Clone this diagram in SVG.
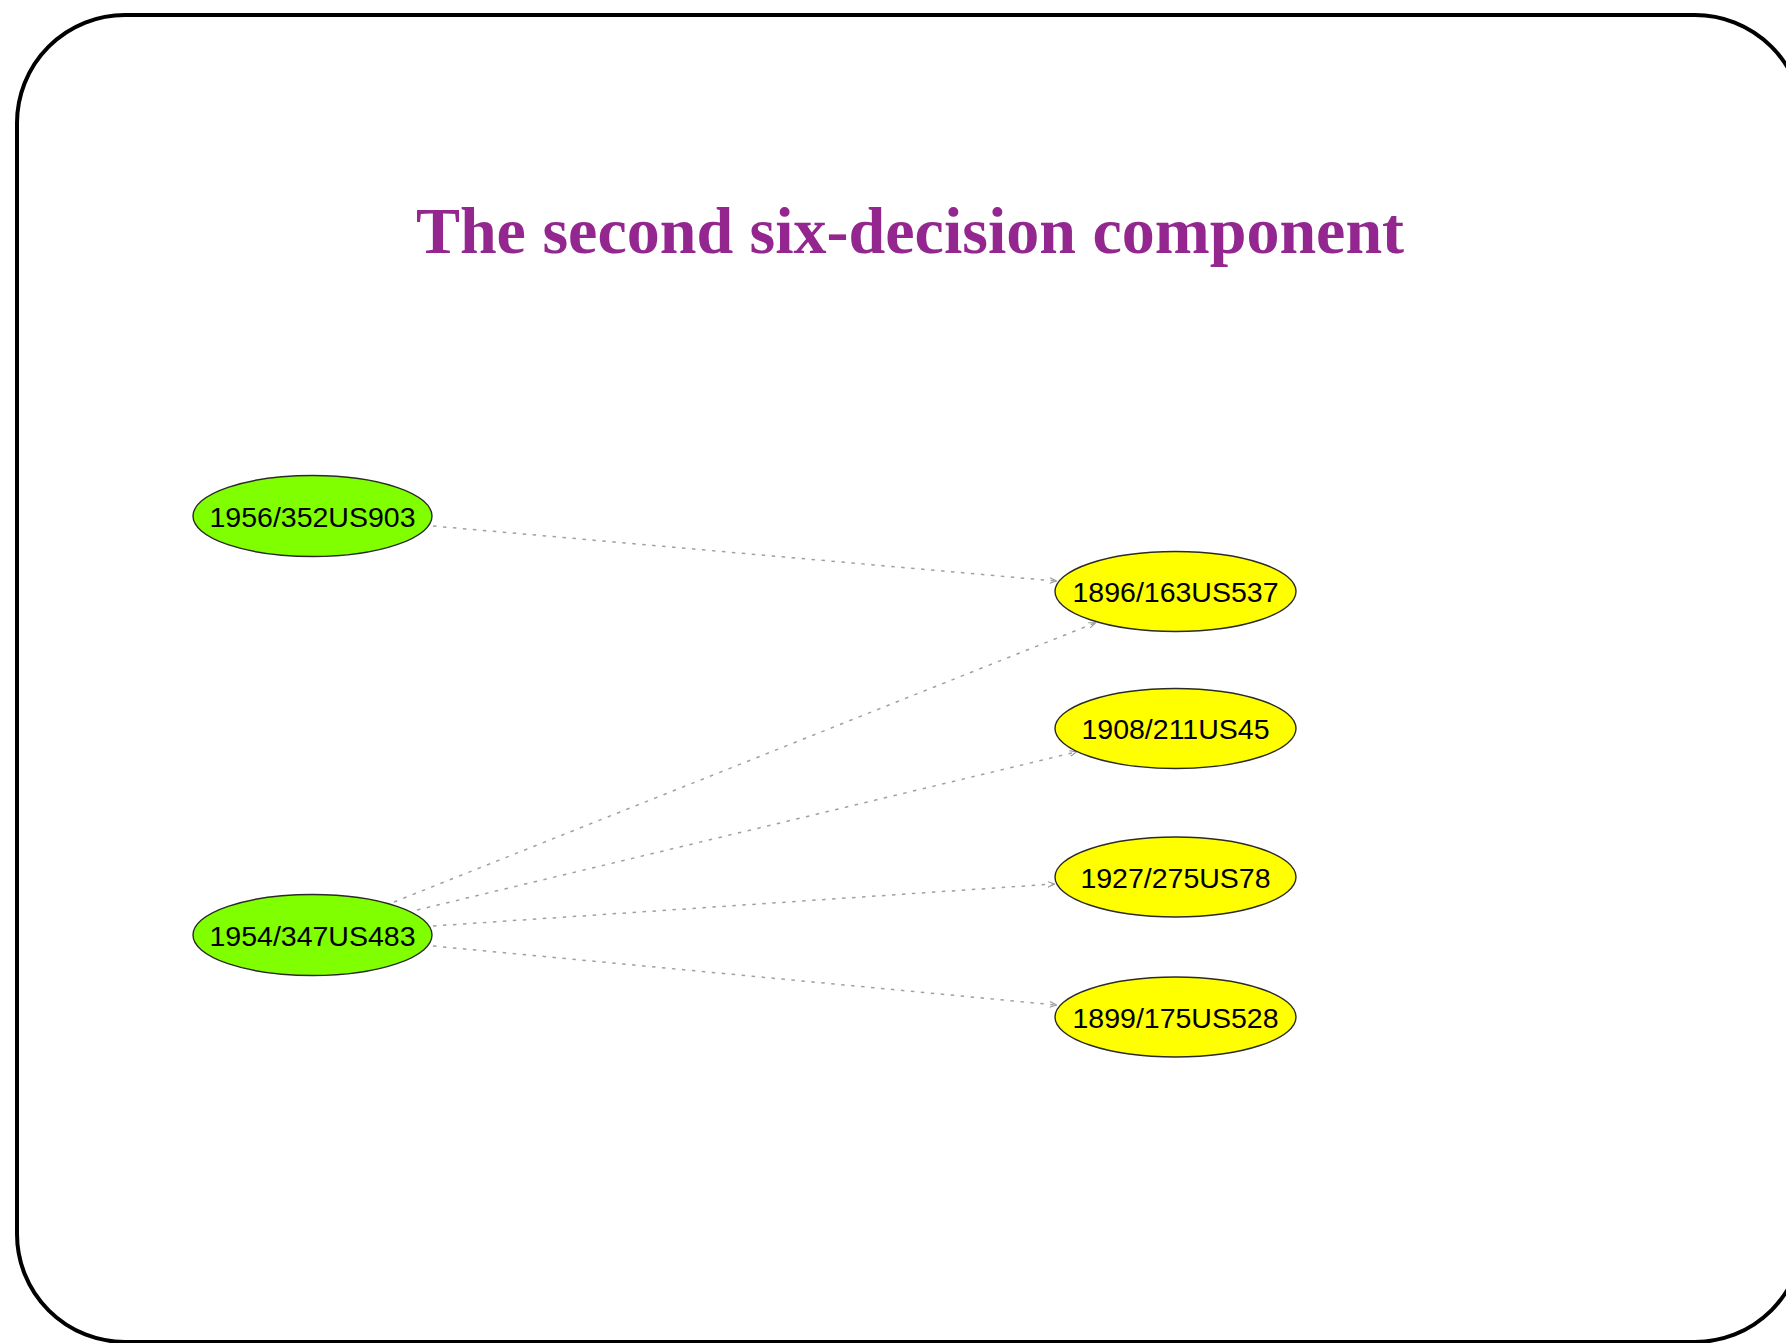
<svg xmlns="http://www.w3.org/2000/svg" width="1786" height="1343" viewBox="0 0 1786 1343">
  <style>
    .frame { fill: #ffffff; stroke: #000000; stroke-width: 4; }
    .title { font-family: "Liberation Serif", "Times New Roman", serif; font-weight: bold; font-size: 66px; fill: #93278f; }
    .node ellipse { stroke: #2a2a2a; stroke-width: 1.4; }
    .node text { font-family: "Liberation Sans", Arial, sans-serif; font-size: 28.5px; fill: #000000; text-anchor: middle; }
    .src ellipse { fill: #80ff00; }
    .dst ellipse { fill: #ffff00; }
    .edge { fill: none; stroke: #a0a0a0; stroke-width: 1.5; stroke-dasharray: 3.5 6.5; marker-end: url(#arrow); }
  </style>
  <defs>
    <marker id="arrow" viewBox="0 0 10 10" refX="9" refY="5" markerWidth="7" markerHeight="7" markerUnits="userSpaceOnUse" orient="auto">
      <path d="M0,1 L10,5 L0,9" fill="none" stroke="#999999" stroke-width="1.6"/>
    </marker>
  </defs>

  <rect class="frame" x="17" y="15" width="1786" height="1327" rx="108" ry="108"/>

  <text class="title" x="910" y="253" text-anchor="middle">The second six-decision component</text>

  <g id="connectors">
    <line class="edge" x1="433" y1="526" x2="1056" y2="581"/>
    <line class="edge" x1="394" y1="902" x2="1095" y2="623"/>
    <line class="edge" x1="417" y1="910" x2="1076" y2="752"/>
    <line class="edge" x1="433" y1="926" x2="1054" y2="884"/>
    <line class="edge" x1="433" y1="946" x2="1056" y2="1005"/>
  </g>

  <g id="n1956_352US903" class="node src">
    <ellipse cx="312.5" cy="516" rx="119.5" ry="40.5"/>
    <text x="312.5" y="526.5">1956/352US903</text>
  </g>
  <g id="n1954_347US483" class="node src">
    <ellipse cx="312.5" cy="935" rx="119.5" ry="40.5"/>
    <text x="312.5" y="945.5">1954/347US483</text>
  </g>
  <g id="n1896_163US537" class="node dst">
    <ellipse cx="1175.5" cy="591.5" rx="120.5" ry="40"/>
    <text x="1175.5" y="602">1896/163US537</text>
  </g>
  <g id="n1908_211US45" class="node dst">
    <ellipse cx="1175.5" cy="728.5" rx="120.5" ry="40"/>
    <text x="1175.5" y="739">1908/211US45</text>
  </g>
  <g id="n1927_275US78" class="node dst">
    <ellipse cx="1175.5" cy="877" rx="120.5" ry="40"/>
    <text x="1175.5" y="887.5">1927/275US78</text>
  </g>
  <g id="n1899_175US528" class="node dst">
    <ellipse cx="1175.5" cy="1017" rx="120.5" ry="40"/>
    <text x="1175.5" y="1027.5">1899/175US528</text>
  </g>
</svg>
